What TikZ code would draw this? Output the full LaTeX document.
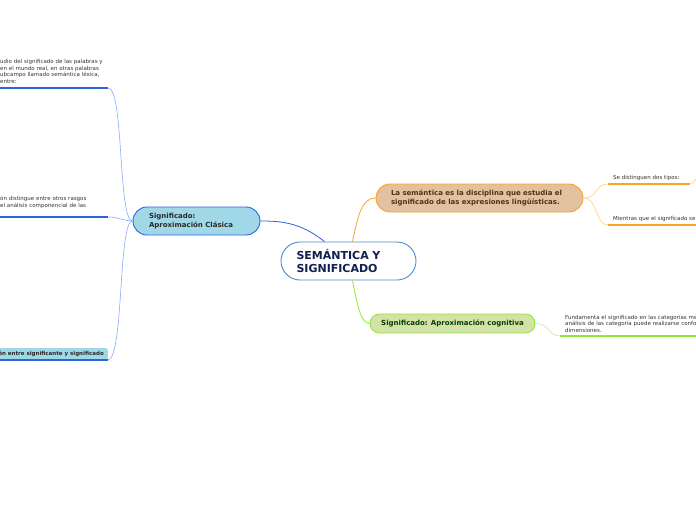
\documentclass[tikz,border=0pt]{standalone}
\usepackage{fontspec}
\setmainfont{DejaVu Sans}
\usetikzlibrary{calc,positioning}
\definecolor{navy}{RGB}{16,32,80}
\definecolor{rootline}{RGB}{74,140,208}
\definecolor{skyfill}{RGB}{160,216,232}
\definecolor{skyline}{RGB}{45,98,224}
\definecolor{skythin}{RGB}{136,170,255}
\definecolor{tanfill}{RGB}{227,192,160}
\definecolor{amber}{RGB}{245,166,35}
\definecolor{amberthin}{RGB}{255,204,128}
\definecolor{sagefill}{RGB}{212,226,168}
\definecolor{lime}{RGB}{140,236,50}
\definecolor{limethin}{RGB}{192,240,144}
\definecolor{inkgray}{RGB}{51,51,51}

\tikzset{
  topic/.style={rectangle,draw,line width=0.9pt,align=left,inner ysep=0pt,
    font=\fontsize{7}{9}\selectfont\bfseries},
  leaf/.style={align=left,inner xsep=5pt,inner ysep=3pt,text=inkgray,
    font=\fontsize{5.5}{6.8}\selectfont},
}

\begin{document}
\begin{tikzpicture}[x=1pt,y=-1pt]
\useasboundingbox (0,0) rectangle (696,520);
\begin{scope}
\clip (0,0) rectangle (696,520);

% central topic
\node[topic,draw=rootline,fill=white,rounded corners=19pt,
  minimum width=135pt,minimum height=38pt,text width=104pt,inner xsep=15.5pt,
  text=navy,font=\fontsize{11}{13}\selectfont\bfseries]
  (root) at (348.5,261) {SEMÁNTICA Y\\SIGNIFICADO};

% main branches
\node[topic,draw=skyline,fill=skyfill,rounded corners=14pt,
  minimum width=127pt,minimum height=28pt,text width=95pt,inner xsep=16pt,
  text=inkgray!80!black] (clasica) at (196.5,221)
  {Significado:\\Aproximación Clásica};
\node[topic,draw=amber,fill=tanfill,rounded corners=14pt,
  minimum width=207pt,minimum height=28pt,text width=177pt,inner xsep=15pt,
  text=brown!40!black] (semantica) at (479.5,198)
  {La semántica es la disciplina que estudia el\\significado de las expresiones lingüísticas.};
\node[topic,draw=lime,fill=sagefill,rounded corners=9.5pt,
  minimum width=165pt,minimum height=19pt,inner xsep=10pt,
  text=green!25!black] (cognitiva) at (452.5,323.5)
  {Significado: Aproximación cognitiva};

\draw[skyline,line width=0.8pt] ([xshift=-24pt]root.north)
  .. controls (300,222) and (280,221) .. (clasica.east);
\draw[amber,line width=0.8pt] ([xshift=4pt]root.north)
  .. controls (358,215) and (362,198) .. (semantica.west);
\draw[lime,line width=0.8pt] ([xshift=4pt]root.south)
  .. controls (358,310) and (362,323.5) .. (cognitiva.west);

% left leaves
\node[leaf,anchor=south west,text width=108pt,inner xsep=0pt,inner ysep=4pt]
  (lexica) at (0,88)
  {udio del significado de las palabras y\\ en el mundo real, en otras palabras\\ubcampo llamado semántica léxica,\\entre:};
\node[leaf,anchor=south west,text width=108pt,inner xsep=0pt,inner ysep=8pt]
  (rasgos) at (0,217)
  {ón distingue entre otros rasgos\\el análisis componencial de las};
\node[leaf,anchor=south east,inner xsep=4pt,inner ysep=3pt,
  fill=skyfill,rounded corners=2pt,text=inkgray!80!black,
  font=\fontsize{5.5}{6.8}\selectfont\bfseries] (relacion) at (108,360)
  {ón entre significante y significado};
\coordinate (relacionend) at (-4,360);

\draw[skyline,line width=1.2pt] (lexica.south west) -- (lexica.south east);
\draw[skyline,line width=1.2pt] (rasgos.south west) -- (rasgos.south east);
\draw[skyline,line width=1.2pt] (relacionend) -- (relacion.south east);
\draw[skythin,line width=0.6pt] (clasica.west)
  .. controls (118,221) and (124,90) .. (lexica.south east);
\draw[skythin,line width=0.6pt] (clasica.west)
  .. controls (120,220) and (118,217) .. (rasgos.south east);
\draw[skythin,line width=0.6pt] (clasica.west)
  .. controls (118,221) and (124,358) .. (relacion.south east);

% right leaves
\node[leaf,anchor=south west,text width=72pt] (tipos) at (608,184)
  {Se distinguen dos tipos:};
\node[leaf,anchor=south west,text width=100pt] (mientras) at (608,225)
  {Mientras que el significado se};
\node[leaf,anchor=south west,text width=160pt] (categorias) at (560,336)
  {Fundamenta el significado en las categorías me\\análisis de las categoría puede realizarse confor\\dimensiones.};
\coordinate (tiposnext) at (700,177);

\draw[amber,line width=1.2pt] (tipos.south west) -- (tipos.south east);
\draw[amber,line width=1.2pt] (mientras.south west) -- (mientras.south east);
\draw[lime,line width=1.2pt] (categorias.south west) -- (categorias.south east);
\draw[amberthin,line width=0.6pt] (semantica.east)
  .. controls (598,198) and (595,184) .. (tipos.south west);
\draw[amberthin,line width=0.6pt] (semantica.east)
  .. controls (598,198) and (595,225) .. (mientras.south west);
\draw[amberthin,line width=0.6pt] (tipos.south east)
  .. controls (694,184) and (694,178) .. (tiposnext);
\draw[limethin,line width=0.6pt] (cognitiva.east)
  .. controls (550,323.5) and (548,336) .. (categorias.south west);
\end{scope}
\end{tikzpicture}
\end{document}
